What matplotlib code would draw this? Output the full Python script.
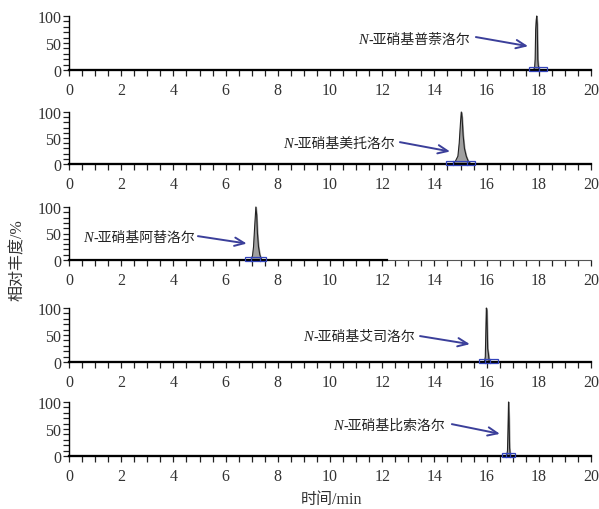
import matplotlib
matplotlib.use("Agg")
import matplotlib.pyplot as plt
from matplotlib.ticker import MultipleLocator
from matplotlib.patches import Rectangle

# ---------------- data ----------------
names = ["-亚硝基普萘洛尔", "-亚硝基美托洛尔", "-亚硝基阿替洛尔", "-亚硝基艾司洛尔", "-亚硝基比索洛尔"]

t1 = [17.80, 17.84, 17.86, 17.88, 17.90, 17.92, 17.94, 17.96, 17.98, 18.02]
a1 = [0, 5, 20, 75, 92, 100, 85, 20, 8, 0]

t2 = [14.70, 14.80, 14.90, 14.95, 15.00, 15.03, 15.06, 15.10, 15.15, 15.22, 15.30, 15.40]
a2 = [0, 5, 15, 40, 80, 100, 90, 55, 30, 15, 5, 0]

t3 = [6.97, 7.03, 7.07, 7.11, 7.16, 7.19, 7.22, 7.26, 7.31, 7.38]
a3 = [0, 8, 25, 60, 100, 85, 50, 25, 10, 0]

t4 = [15.92, 15.95, 15.97, 15.99, 16.01, 16.04, 16.07, 16.10]
a4 = [0, 10, 55, 100, 95, 25, 15, 0]

t5 = [16.77, 16.80, 16.82, 16.84, 16.86, 16.88, 16.91]
a5 = [0, 10, 50, 100, 70, 15, 0]

peak_t = [t1, t2, t3, t4, t5]
peak_a = [a1, a2, a3, a4, a5]

# integration windows: start, end, inner markers
box_start = [17.62, 14.43, 6.73, 15.70, 16.58]
box_end = [18.31, 15.55, 7.53, 16.43, 17.09]
box_marks = [[17.99], [14.70, 15.26], [6.97, 7.33], [15.92, 16.14], [16.75, 16.91]]

baseline_end = [20, 20, 12.2, 20, 20]

# annotation: text right end (x, y), arrow tail, arrow head
text_pos = [(15.36, 57), (12.49, 40), (4.83, 43), (13.26, 48), (14.41, 57)]
arrow_tail = [(15.59, 61), (12.68, 42), (4.94, 45), (13.45, 48), (14.67, 59)]
arrow_head = [(17.59, 44), (14.60, 24), (6.81, 31), (15.36, 33), (16.51, 41)]

xticks = [0, 2, 4, 6, 8, 10, 12, 14, 16, 18, 20]
yticks = [0, 50, 100]

# ---------------- layout ----------------
W, H = 599, 510
rows = [(71, 17), (165, 113), (261, 208), (363, 309), (457, 403)]
x0px, x1px = 69, 591
navy = "#3b3f9a"
serif = "Liberation Serif"
cjk = ["Liberation Serif", "Noto Sans CJK SC"]

fig = plt.figure(figsize=(W / 100, H / 100), dpi=100)

for i, (bot, top) in enumerate(rows):
    ax = fig.add_axes([x0px / W, 1 - bot / H, (x1px - x0px) / W, (bot - top) / H])
    ax.set_xlim(0, 20)
    ax.set_ylim(0, 100)
    for s in ["top", "right"]:
        ax.spines[s].set_visible(False)
    ax.spines["left"].set_linewidth(1.0)
    if baseline_end[i] < 20:
        ax.spines["bottom"].set_linewidth(0.8)
        ax.spines["bottom"].set_color("#555555")
    else:
        ax.spines["bottom"].set_linewidth(1.5)
    ax.plot([0, baseline_end[i]], [0, 0], color="black", lw=1.6, clip_on=False, zorder=3)

    ax.set_xticks(xticks)
    ax.xaxis.set_minor_locator(MultipleLocator(0.5))
    ax.set_yticks(yticks)
    ax.yaxis.set_minor_locator(MultipleLocator(10))
    ax.tick_params(axis="both", which="both", direction="out", width=0.9, colors="#222222")
    ax.tick_params(axis="x", which="both", length=4.5, pad=4)
    ax.tick_params(axis="y", which="both", length=4, pad=1.5)
    ax.tick_params(labelsize=11.5, labelcolor="#333333")
    for lab in ax.get_xticklabels() + ax.get_yticklabels():
        lab.set_fontfamily(serif)

    # peak
    ax.fill_between(peak_t[i], peak_a[i], 0, color="#a0a0a0", zorder=2, clip_on=False)
    ax.plot(peak_t[i], peak_a[i], color="#222222", lw=0.8, zorder=2, clip_on=False)

    # integration box
    bs, be = box_start[i], box_end[i]
    ax.add_patch(Rectangle((bs, -2), be - bs, 7, fill=False, edgecolor="#3344bb",
                           lw=0.9, clip_on=False, zorder=4))
    for m in box_marks[i]:
        ax.plot([m, m], [-2, 5], color="#3344bb", lw=0.9, clip_on=False, zorder=4)

    # annotation
    tx, ty = text_pos[i]
    txt = ax.text(tx, ty, names[i], ha="right", va="center", fontsize=10,
                  family=cjk, color="#222222")
    ax.annotate("N", xy=(0, 0.5), xycoords=txt, ha="right", va="center",
                fontsize=10.5, family=serif, style="italic", color="#222222")
    ax.annotate("", xy=arrow_head[i], xytext=arrow_tail[i],
                arrowprops=dict(arrowstyle="->,head_length=0.7,head_width=0.3",
                                color=navy, lw=1.4, shrinkA=0, shrinkB=0))

fig.text(18 / W, 1 - 260 / H, "相对丰度/%", rotation=90, ha="center", va="center",
         fontsize=11.5, family=cjk, color="#333333")
fig.text(332 / W, 1 - 500 / H, "时间/min", ha="center", va="center",
         fontsize=11.5, family=cjk, color="#333333")

fig.savefig("out.png", dpi=100)
